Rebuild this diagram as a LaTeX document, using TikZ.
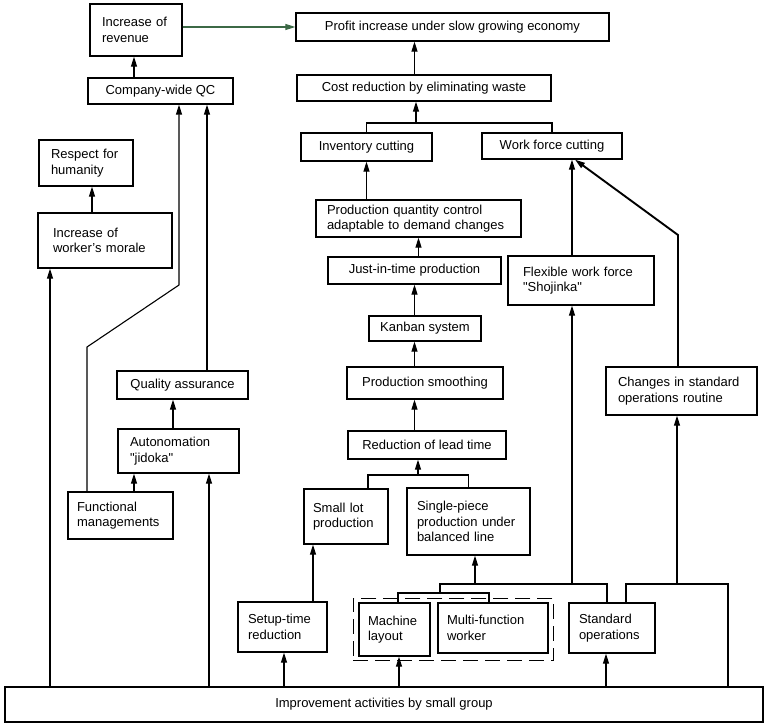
\documentclass[tikz,border=0pt]{standalone}
\usepackage{fontspec}
\setmainfont{Liberation Sans}
\usetikzlibrary{arrows.meta,fit}
\definecolor{revgreen}{RGB}{60,105,70}

\begin{document}
\begin{tikzpicture}[
  x=1pt, y=-1pt,
  box/.style={rectangle, draw, line width=1.3pt, align=center, font=\fontsize{13}{15.5}\selectfont},
  lbox/.style={box, align=left},
  arr/.style={-{Triangle[length=10pt, width=6pt]}, line width=1.1pt}
]
\useasboundingbox (0,0) rectangle (768,727);

\node[lbox, minimum height=52pt, text width=68pt, inner xsep=12pt] (revenue) at (136,30) {Increase of\\revenue};
\node[box, minimum width=313pt, minimum height=28pt] (profit) at (452.5,27) {Profit increase under slow growing economy};
\node[box, minimum width=145pt, minimum height=26pt] (qc) at (160.5,91) {Company-wide QC};
\node[box, minimum width=254pt, minimum height=26pt] (cost) at (424,88) {Cost reduction by eliminating waste};
\node[box, minimum width=131pt, minimum height=28pt] (inventory) at (366.5,147) {Inventory cutting};
\node[box, minimum width=140pt, minimum height=26pt] (workforce) at (552,146) {Work force cutting};
\node[lbox, minimum height=46pt, text width=70pt, inner xsep=12pt] (respect) at (86,163) {Respect for\\humanity};
\node[lbox, minimum height=55pt, text width=104pt, inner xsep=15pt] (morale) at (105,240.5) {Increase of\\worker's morale};
\node[lbox, minimum height=37pt, text width=183pt, inner xsep=11pt] (pqc) at (418.5,218.5) {Production quantity control\\adaptable to demand changes};
\node[box, minimum width=173pt, minimum height=27pt] (jit) at (414.5,270.5) {Just-in-time production};
\node[lbox, minimum height=49pt, text width=116pt, inner xsep=15pt] (flexible) at (581,280.5) {Flexible work force\\\textquotedbl Shojinka\textquotedbl};
\node[box, minimum width=112pt, minimum height=25pt] (kanban) at (425,328.5) {Kanban system};
\node[box, minimum width=156pt, minimum height=32pt] (smoothing) at (425,383) {Production smoothing};
\node[box, minimum width=158pt, minimum height=28pt] (leadtime) at (427,445) {Reduction of lead time};
\node[lbox, minimum height=55pt, text width=66pt, inner xsep=9pt] (smalllot) at (346,516.5) {Small lot\\production};
\node[lbox, minimum height=67pt, text width=103pt, inner xsep=10pt] (singlepiece) at (468.5,521.5) {Single-piece\\production under\\balanced line};
\node[lbox, minimum height=48pt, text width=127pt, inner xsep=12pt] (changes) at (681.5,391) {Changes in standard\\operations routine};
\node[box, minimum width=131pt, minimum height=28pt] (qa) at (182.5,385) {Quality assurance};
\node[lbox, minimum height=44pt, text width=97pt, inner xsep=12pt] (autonomation) at (178.5,451) {Autonomation\\\textquotedbl jidoka\textquotedbl};
\node[lbox, minimum height=47pt, text width=87pt, inner xsep=9pt] (fm) at (120.5,515.5) {Functional\\managements};
\node[lbox, minimum height=50pt, text width=69pt, inner xsep=10pt] (setup) at (282.5,627) {Setup-time\\reduction};
\node[lbox, minimum height=53pt, text width=53pt, inner xsep=9pt] (machine) at (394.5,629.5) {Machine\\layout};
\node[lbox, minimum height=50pt, text width=92pt, inner xsep=9pt] (multi) at (493,628) {Multi-function\\worker};
\node[lbox, minimum height=50pt, text width=66pt, inner xsep=10pt] (standard) at (612,628) {Standard\\operations};
\node[box, minimum width=758pt, minimum height=35pt] (improvement) at (384,704.5) {Improvement activities by small group};
\node[draw, line width=1.3pt, dash pattern=on 15pt off 7pt, fit=(machine)(multi), inner xsep=5pt, inner ysep=4pt] (cell) {};

\coordinate (fmbend1) at (87,347);
\coordinate (fmbend2) at (179,285);
\coordinate (costjoin) at (416,123);
\coordinate (leadjoin) at (418,475);
\coordinate (mmjoin) at (440,593);
\coordinate (opsjoin) at (440,584);
\coordinate (stdjoin) at (626,584);
\coordinate (chgbend) at (678,235);

\draw[arr, revgreen] (revenue.east |- profit.west) -- (profit.west);
\draw[arr] (qc.north -| 134,0) -- (revenue.south -| 134,0);
\draw[arr] (morale.north -| 92,0) -- (respect.south -| 92,0);
\draw[arr] (improvement.north -| 50,0) -- (morale.south -| 50,0);
\draw[arr] (fm.north -| fmbend1) -- (fmbend1) -- (fmbend2) -- (qc.south -| fmbend2);
\draw[arr] (qa.north -| 207,0) -- (qc.south -| 207,0);
\draw[arr] (autonomation.north -| 173,0) -- (qa.south -| 173,0);
\draw[arr] (fm.north -| 134,0) -- (autonomation.south -| 134,0);
\draw[arr] (improvement.north -| 209,0) -- (autonomation.south -| 209,0);

\draw[arr] (cost.north -| jit) -- (profit.south -| jit);
\draw[line width=1.1pt] (inventory.north) |- (costjoin) -| (workforce.north);
\draw[arr] (costjoin) -- (cost.south -| costjoin);
\draw[arr] (pqc.north -| inventory) -- (inventory.south);
\draw[arr] (jit.north -| pqc) -- (pqc.south);
\draw[arr] (kanban.north -| jit) -- (jit.south);
\draw[arr] (smoothing.north -| jit) -- (kanban.south -| jit);
\draw[arr] (leadtime.north -| jit) -- (smoothing.south -| jit);
\draw[line width=1.1pt] (smalllot.north -| 368,0) |- (leadjoin) -| (singlepiece.north);
\draw[arr] (leadjoin) -- (leadtime.south -| leadjoin);
\draw[arr] (setup.north -| 313,0) -- (smalllot.south -| 313,0);
\draw[arr] (improvement.north -| 284,0) -- (setup.south -| 284,0);
\draw[arr] (improvement.north -| 399,0) -- (machine.south -| 399,0);
\draw[arr] (improvement.north -| 606,0) -- (standard.south -| 606,0);
\draw[line width=1.1pt] (machine.north -| 398,0) |- (mmjoin) -| (multi.north -| 489,0);
\draw[line width=1.1pt] (mmjoin) -- (opsjoin) -| (standard.north -| 607,0);
\draw[arr] (opsjoin -| 475,0) -- (singlepiece.south -| 475,0);
\draw[arr] (opsjoin -| 572,0) -- (flexible.south -| 572,0);
\draw[line width=1.1pt] (standard.north -| stdjoin) -- (stdjoin) -| (improvement.north -| 728,0);
\draw[arr] (stdjoin -| 677,0) -- (changes.south -| 677,0);
\draw[arr] (flexible.north -| 572,0) -- (workforce.south -| 572,0);
\draw[arr, line width=1.9pt] (changes.north -| chgbend) -- (chgbend) -- (workforce.south -| 575,0);
\end{tikzpicture}
\end{document}
